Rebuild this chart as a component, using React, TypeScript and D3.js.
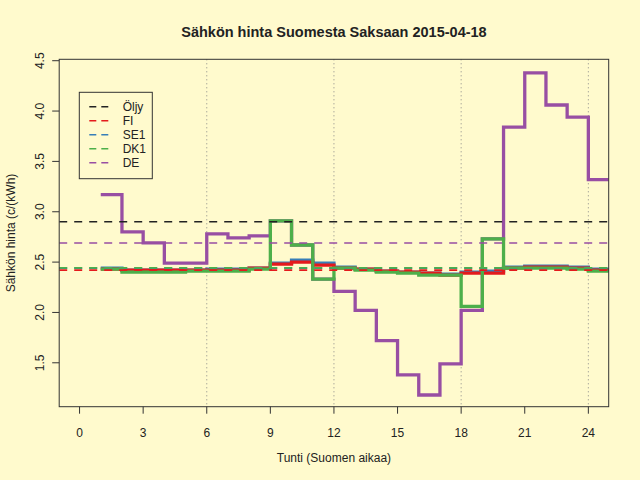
import { useRef, useEffect } from 'react';
import * as d3 from "d3";

// hourly prices c/kWh, hour 1..24 (Finnish time)
const hours = [1, 2, 3, 4, 5, 6, 7, 8, 9, 10, 11, 12, 13, 14, 15, 16, 17, 18, 19, 20, 21, 22, 23, 24];
const fi = [2.43, 2.42, 2.42, 2.42, 2.42, 2.42, 2.42, 2.44, 2.48, 2.50, 2.47, 2.44, 2.43, 2.41, 2.40, 2.39, 2.37, 2.39, 2.39, 2.44, 2.45, 2.45, 2.44, 2.42];
const se1 = [2.44, 2.42, 2.42, 2.42, 2.42, 2.43, 2.43, 2.44, 2.49, 2.52, 2.49, 2.45, 2.43, 2.41, 2.40, 2.39, 2.38, 2.40, 2.41, 2.45, 2.46, 2.46, 2.45, 2.43];
const dk1 = [2.43, 2.40, 2.40, 2.40, 2.41, 2.41, 2.41, 2.43, 2.91, 2.67, 2.33, 2.44, 2.42, 2.40, 2.39, 2.37, 2.37, 2.06, 2.73, 2.44, 2.44, 2.44, 2.43, 2.41];
const de = [3.17, 2.80, 2.69, 2.49, 2.49, 2.78, 2.74, 2.76, 2.91, 2.67, 2.33, 2.21, 2.02, 1.72, 1.38, 1.18, 1.49, 2.02, 2.73, 3.84, 4.38, 4.06, 3.94, 3.32];

// reference levels (dashed)
const legendLabels = ["Öljy", "FI", "SE1", "DK1", "DE"];
const legendColors = ["#222222", "#E41A1C", "#377EB8", "#4DAF4A", "#984EA3"];
const levels = [2.90, 2.42, 2.44, 2.443, 2.69];

const xTicks = [0, 3, 6, 9, 12, 15, 18, 21, 24];
const yTicks = [1.5, 2.0, 2.5, 3.0, 3.5, 4.0, 4.5];
const vLines = [6, 12, 18, 24];

const font = "'Liberation Sans', Arial, Helvetica, sans-serif";

const App = () => {
  const ref = useRef<SVGSVGElement>(null);

  useEffect(() => {
    const svg = d3.select(ref.current);
    svg.selectAll("*").remove();

    const left = 59.2, right = 608.7, top = 59.3, bottom = 406.7;
    const x = d3.scaleLinear().domain([-0.96, 24.96]).range([left, right]);
    const y = d3.scaleLinear().domain([1.064, 4.514]).range([bottom, top]);

    svg.append("rect").attr("width", 640).attr("height", 480).attr("fill", "#FFFACD");

    svg.append("clipPath").attr("id", "plotclip")
      .append("rect").attr("x", left).attr("y", top).attr("width", right - left).attr("height", bottom - top);

    const g = svg.append("g").attr("clip-path", "url(#plotclip)");

    // vertical dotted lines
    g.selectAll("line.v").data(vLines).enter().append("line")
      .attr("x1", d => x(d)).attr("x2", d => x(d))
      .attr("y1", top).attr("y2", bottom)
      .attr("stroke", "#888").attr("stroke-width", 1).attr("stroke-dasharray", "1,3");

    const line = d3.line<[number, number]>()
      .x(d => x(d[0])).y(d => y(d[1]))
      .curve(d3.curveStepAfter);

    const series: [number[], string][] = [
      [de, legendColors[4]],
      [se1, legendColors[2]],
      [fi, legendColors[1]],
      [dk1, legendColors[3]],
    ];
    series.forEach(([vals, col]) => {
      const pts: [number, number][] = hours.map((h, i) => [h, vals[i]]);
      pts.push([hours[hours.length - 1] + 1, vals[vals.length - 1]]);
      g.append("path").attr("d", line(pts)).attr("fill", "none")
        .attr("stroke", col).attr("stroke-width", 3.3).attr("stroke-linejoin", "miter");
    });

    // horizontal reference levels
    g.selectAll("line.h").data(levels).enter().append("line")
      .attr("x1", left).attr("x2", right)
      .attr("y1", d => y(d)).attr("y2", d => y(d))
      .attr("stroke", (d, i) => legendColors[i]).attr("stroke-width", 1.6)
      .attr("stroke-dasharray", "8,7");

    // box
    svg.append("rect").attr("x", left).attr("y", top)
      .attr("width", right - left).attr("height", bottom - top)
      .attr("fill", "none").attr("stroke", "#333").attr("stroke-width", 1);

    // x axis
    const xa = svg.append("g");
    xa.selectAll("line").data(xTicks).enter().append("line")
      .attr("x1", d => x(d)).attr("x2", d => x(d))
      .attr("y1", bottom).attr("y2", bottom + 7).attr("stroke", "#333");
    xa.selectAll("text").data(xTicks).enter().append("text")
      .attr("x", d => x(d)).attr("y", 436.5).attr("text-anchor", "middle")
      .attr("font-family", font).attr("font-size", 12).attr("fill", "#222")
      .text(d => String(d));

    // y axis
    const ya = svg.append("g");
    ya.selectAll("line").data(yTicks).enter().append("line")
      .attr("x1", left - 7).attr("x2", left)
      .attr("y1", d => y(d)).attr("y2", d => y(d)).attr("stroke", "#333");
    ya.selectAll("text").data(yTicks).enter().append("text")
      .attr("transform", d => `translate(43.5,${y(d)}) rotate(-90)`)
      .attr("text-anchor", "middle")
      .attr("font-family", font).attr("font-size", 12).attr("fill", "#222")
      .text(d => d.toFixed(1));

    // titles
    svg.append("text").attr("x", (left + right) / 2).attr("y", 37)
      .attr("text-anchor", "middle").attr("font-family", font)
      .attr("font-size", 14.5).attr("font-weight", "bold").attr("fill", "#222")
      .text("Sähkön hinta Suomesta Saksaan 2015-04-18");
    svg.append("text").attr("x", (left + right) / 2).attr("y", 462)
      .attr("text-anchor", "middle").attr("font-family", font)
      .attr("font-size", 12).attr("fill", "#222")
      .text("Tunti (Suomen aikaa)");
    svg.append("text").attr("transform", `translate(14.5,${(top + bottom) / 2}) rotate(-90)`)
      .attr("text-anchor", "middle").attr("font-family", font)
      .attr("font-size", 12).attr("fill", "#222")
      .text("Sähkön hinta (c/(kWh)");

    // legend
    const lg = svg.append("g");
    lg.append("rect").attr("x", 79.3).attr("y", 92.3).attr("width", 73).attr("height", 86.4)
      .attr("fill", "none").attr("stroke", "#333").attr("stroke-width", 1);
    const items = lg.selectAll("g.item").data(legendLabels).enter().append("g")
      .attr("transform", (d, i) => `translate(0,${106.7 + i * 14})`);
    items.append("line").attr("x1", 89.3).attr("x2", 109.3).attr("y1", 0).attr("y2", 0)
      .attr("stroke", (d, i) => legendColors[i]).attr("stroke-width", 1.6)
      .attr("stroke-dasharray", "7,5");
    items.append("text").attr("x", 122.7).attr("y", 4.3)
      .attr("font-family", font).attr("font-size", 12).attr("fill", "#222")
      .text(d => d);
  }, []);

  return <div style={{ position: "absolute", left: 0, top: 0 }}>
    <svg ref={ref} width={640} height={480} style={{ display: "block" }} />
  </div>;
};

export default App;
